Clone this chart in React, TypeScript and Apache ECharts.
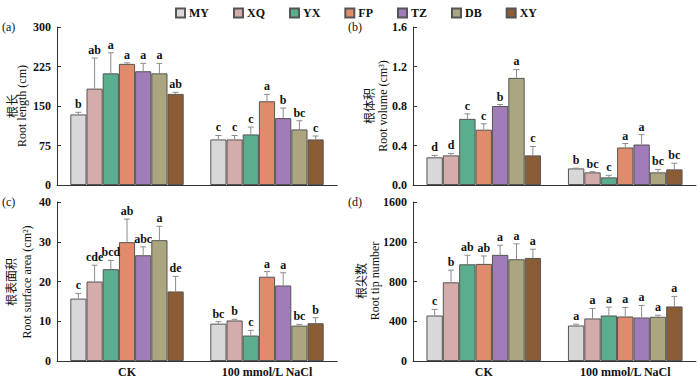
import React, { useEffect, useRef } from 'react';
import * as echarts from 'echarts';

const categories = ['CK', '100 mmol/L NaCl'];
const cultivars = ['MY', 'XQ', 'YX', 'FP', 'TZ', 'DB', 'XY'];
const colors = ['#d8d8d8', '#d4aca9', '#5aae8e', '#e08c6c', '#a07cb8', '#aca680', '#8a5d35'];

// Root length (cm)
const lengthCK = [134, 183, 212, 230, 216, 212, 173];
const lengthCKsd = [4, 58, 39, 2, 15, 19, 3];
const lengthNaCl = [86.5, 86.5, 96, 159, 127, 105.5, 86.5];
const lengthNaClsd = [7.5, 7.5, 14, 13, 19, 16.5, 6.5];
const lengthLetCK = ['b', 'ab', 'a', 'a', 'a', 'a', 'ab'];
const lengthLetNaCl = ['c', 'c', 'c', 'a', 'b', 'bc', 'c'];

// Root volume (cm3)
const volCK = [0.28, 0.30, 0.67, 0.56, 0.80, 1.085, 0.30];
const volCKsd = [0.02, 0.02, 0.05, 0.06, 0.015, 0.085, 0.09];
const volNaCl = [0.168, 0.128, 0.077, 0.38, 0.41, 0.128, 0.158];
const volNaClsd = [0.003, 0.007, 0.021, 0.04, 0.10, 0.03, 0.062];
const volLetCK = ['d', 'd', 'c', 'c', 'b', 'a', 'c'];
const volLetNaCl = ['b', 'bc', 'c', 'a', 'a', 'bc', 'bc'];

// Root surface area (cm2)
const areaCK = [15.7, 20.0, 23.1, 29.9, 26.6, 30.4, 17.5];
const areaCKsd = [1.3, 4.1, 2.2, 5.8, 2.1, 3.5, 3.8];
const areaNaCl = [9.4, 10.2, 6.4, 21.2, 19.0, 8.9, 9.5];
const areaNaClsd = [0.5, 0.3, 1.3, 1.3, 3.2, 0.3, 1.4];
const areaLetCK = ['c', 'cde', 'bcd', 'ab', 'abc', 'a', 'de'];
const areaLetNaCl = ['bc', 'b', 'c', 'a', 'a', 'bc', 'b'];

// Root tip number
const tipCK = [458, 792, 973, 977, 1068, 1024, 1037];
const tipCKsd = [61, 122, 91, 80, 97, 155, 88];
const tipNaCl = [357, 428, 458, 448, 438, 445, 549];
const tipNaClsd = [13, 101, 84, 91, 121, 16, 101];
const tipLetCK = ['c', 'b', 'ab', 'ab', 'a', 'a', 'a'];
const tipLetNaCl = ['a', 'a', 'a', 'a', 'a', 'a', 'a'];

const yMax = [300, 1.6, 40, 1600];
const yInterval = [75, 0.4, 10, 400];
const panelLabels = ['(a)', '(b)', '(c)', '(d)'];
const yNameCN = ['根长', '根体积', '根表面积', '根尖数'];
const yNameEN = ['Root length (cm)', 'Root volume (cm³)', 'Root surface area (cm²)', 'Root tip number'];

const SERIF = '"Liberation Serif", "Times New Roman", serif';
const CJK = '"Noto Sans CJK SC", sans-serif';

const panels = [
  { ck: lengthCK, ckSd: lengthCKsd, na: lengthNaCl, naSd: lengthNaClsd, lck: lengthLetCK, lna: lengthLetNaCl },
  { ck: volCK, ckSd: volCKsd, na: volNaCl, naSd: volNaClsd, lck: volLetCK, lna: volLetNaCl },
  { ck: areaCK, ckSd: areaCKsd, na: areaNaCl, naSd: areaNaClsd, lck: areaLetCK, lna: areaLetNaCl },
  { ck: tipCK, ckSd: tipCKsd, na: tipNaCl, naSd: tipNaClsd, lck: tipLetCK, lna: tipLetNaCl },
];

const gridPos = [
  { left: 57, right: 363, top: 27, height: 158 },
  { left: 413, right: 4, top: 27, height: 158 },
  { left: 57, right: 363, top: 202, height: 159 },
  { left: 413, right: 4, top: 202, height: 159 },
];

const CAT_GAP = 0.19;

function buildOption() {
  const series: any[] = [];
  panels.forEach((p, i) => {
    cultivars.forEach((name, j) => {
      series.push({
        type: 'bar',
        name,
        xAxisIndex: i,
        yAxisIndex: i,
        data: [p.ck[j], p.na[j]],
        barGap: '0%',
        barCategoryGap: CAT_GAP * 100 + '%',
        itemStyle: { color: colors[j], borderColor: '#555', borderWidth: 1 },
      });
    });
    const data: number[][] = [];
    const letters: string[] = [];
    cultivars.forEach((_, j) => {
      data.push([0, j, p.ck[j], p.ck[j] + p.ckSd[j]]);
      letters.push(p.lck[j]);
      data.push([1, j, p.na[j], p.na[j] + p.naSd[j]]);
      letters.push(p.lna[j]);
    });
    series.push({
      type: 'custom',
      xAxisIndex: i,
      yAxisIndex: i,
      z: 5,
      encode: { x: 0, y: 3 },
      data,
      renderItem: (params: any, api: any) => {
        const c = api.value(0);
        const j = api.value(1);
        const m = api.value(2);
        const t = api.value(3);
        const p0 = api.coord([c, m]);
        const p1 = api.coord([c, t]);
        const band = api.size([1, 0])[0];
        const gw = band * (1 - CAT_GAP);
        const bw = gw / 7;
        const x = p0[0] - gw / 2 + bw * (j + 0.5);
        return {
          type: 'group',
          children: [
            { type: 'line', shape: { x1: x, y1: p0[1], x2: x, y2: p1[1] }, style: { stroke: '#8c8c8c', lineWidth: 1 } },
            { type: 'line', shape: { x1: x - 3, y1: p1[1], x2: x + 3, y2: p1[1] }, style: { stroke: '#8c8c8c', lineWidth: 1 } },
            {
              type: 'text',
              x,
              y: p1[1] - 2,
              style: {
                text: letters[params.dataIndex],
                align: 'center',
                verticalAlign: 'bottom',
                fontFamily: SERIF,
                fontWeight: 'bold',
                fontSize: 12,
                fill: '#111',
              },
            },
          ],
        };
      },
    });
  });

  const graphic: any[] = [];
  const labelPos = [[2, 27], [348, 27], [2, 202], [348, 202]];
  const cnX = [11, 368, 10, 360];
  const enX = [22, 383, 27, 375];
  const midY = [106, 106, 282, 281];
  panelLabels.forEach((t, i) => {
    graphic.push({
      type: 'text', x: labelPos[i][0], y: labelPos[i][1],
      style: { text: t, fontFamily: SERIF, fontSize: 12, fill: '#111', verticalAlign: 'middle', align: 'left' },
    });
    graphic.push({
      type: 'text', x: cnX[i], y: midY[i], rotation: Math.PI / 2,
      style: { text: yNameCN[i], fontFamily: CJK, fontSize: 12, fill: '#111', align: 'center', verticalAlign: 'middle' },
    });
    graphic.push({
      type: 'text', x: enX[i], y: midY[i], rotation: Math.PI / 2,
      style: { text: yNameEN[i], fontFamily: SERIF, fontSize: 12, fill: '#111', align: 'center', verticalAlign: 'middle' },
    });
  });

  return {
    animation: false,
    backgroundColor: '#fff',
    legend: {
      data: cultivars,
      left: 170,
      top: 2,
      icon: 'rect',
      itemWidth: 9,
      itemHeight: 9,
      itemGap: 24,
      textStyle: { fontFamily: SERIF, fontWeight: 'bold', fontSize: 12, color: '#111', padding: [0, 0, 0, -1] },
    },
    grid: gridPos.map((g) => ({ ...g, containLabel: false })),
    xAxis: gridPos.map((_, i) => ({
      type: 'category',
      gridIndex: i,
      data: categories,
      axisLine: { lineStyle: { color: '#333', width: 1 } },
      axisTick: { inside: true, length: 4, lineStyle: { color: '#333' } },
      axisLabel: {
        show: i >= 2,
        fontFamily: SERIF,
        fontWeight: 'bold',
        fontSize: 12,
        color: '#111',
        margin: 5,
      },
      splitLine: { show: false },
    })),
    yAxis: gridPos.map((_, i) => ({
      type: 'value',
      gridIndex: i,
      min: 0,
      max: yMax[i],
      interval: yInterval[i],
      axisLine: { show: true, lineStyle: { color: '#333', width: 1 } },
      axisTick: { show: true, inside: true, length: 4, lineStyle: { color: '#333' } },
      axisLabel: {
        fontFamily: SERIF,
        fontWeight: 'bold',
        fontSize: 12,
        color: '#111',
        margin: 6,
        formatter: (v: number) => (i === 1 ? v.toFixed(1) : String(v)),
      },
      splitLine: { show: false },
    })),
    series,
    graphic,
  };
}

export default function App() {
  const ref = useRef<HTMLDivElement>(null);
  useEffect(() => {
    if (!ref.current) return;
    const chart = echarts.init(ref.current, undefined, { renderer: 'svg' });
    chart.setOption(buildOption());
    return () => chart.dispose();
  }, []);
  return <div ref={ref} style={{ position: 'fixed', left: 0, top: 0, width: 700, height: 380 }} />;
}
